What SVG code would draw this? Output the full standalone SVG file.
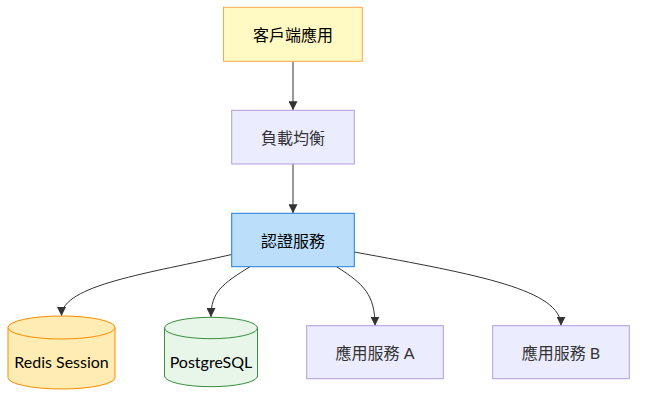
<svg xmlns="http://www.w3.org/2000/svg" width="645" height="402" viewBox="0 0 645 402">
<defs>
<style>
text{font-family:Lato,"Noto Sans CJK TC",sans-serif;font-size:16px;text-anchor:middle;dominant-baseline:central}
.dark{fill:#000}
.grey{fill:#333}
.edge{fill:none;stroke:#333;stroke-width:1}
.purple{fill:#ececff;stroke:#b39ddb;stroke-width:1}
</style>
<marker id="arrow" viewBox="0 0 10 10" refX="10" refY="5" markerUnits="userSpaceOnUse" markerWidth="9" markerHeight="9" orient="auto">
<path d="M0,0 L10,5 L0,10 z" fill="#333"/>
</marker>
</defs>
<rect width="645" height="402" fill="#fff"/>
<g id="connectors">
<path class="edge" d="M293,61.3 L293,110.3" marker-end="url(#arrow)"/>
<path class="edge" d="M293,164 L293,213.3" marker-end="url(#arrow)"/>
<path class="edge" d="M231.7,254.5 C150,273 61.5,285 61.5,316" marker-end="url(#arrow)"/>
<path class="edge" d="M250,266.7 C222,284 211,292 211,317" marker-end="url(#arrow)"/>
<path class="edge" d="M336.5,266.7 C364,284 375,295 375,325.7" marker-end="url(#arrow)"/>
<path class="edge" d="M354.3,252 C480,275 561,290 561,325.7" marker-end="url(#arrow)"/>
</g>
<g id="client">
<rect x="223.5" y="7.3" width="138.8" height="54" fill="#fff9c4" stroke="#f9a84d" stroke-width="1"/>
<text class="dark" x="293" y="34.3">客戶端應用</text>
</g>
<g id="lb">
<rect class="purple" x="231.7" y="110.3" width="122.6" height="53.7"/>
<text class="grey" x="293" y="137.2">負載均衡</text>
</g>
<g id="auth">
<rect x="231.7" y="213.3" width="122.6" height="53.4" fill="#bbdefb" stroke="#1e7fd8" stroke-width="1"/>
<text class="dark" x="293" y="240">認證服務</text>
</g>
<g id="redis">
<path d="M8,327.5 a53.5,11.5 0 0,0 107,0 a53.5,11.5 0 0,0 -107,0 l0,50 a53.5,11.5 0 0,0 107,0 l0,-50" fill="#ffecb3" stroke="#fb8c00" stroke-width="1"/>
<text class="dark" x="61.5" y="361.5">Redis Session</text>
</g>
<g id="postgres">
<path d="M164.5,328 a46.5,10.7 0 0,0 93,0 a46.5,10.7 0 0,0 -93,0 l0,48 a46.5,10.7 0 0,0 93,0 l0,-48" fill="#e8f5e9" stroke="#388e3c" stroke-width="1"/>
<text class="dark" x="211" y="361.5">PostgreSQL</text>
</g>
<g id="appA">
<rect class="purple" x="306.7" y="325.7" width="136.6" height="53"/>
<text class="grey" x="375" y="352.2">應用服務 A</text>
</g>
<g id="appB">
<rect class="purple" x="492.7" y="325.7" width="136.6" height="53"/>
<text class="grey" x="561" y="352.2">應用服務 B</text>
</g>
</svg>
